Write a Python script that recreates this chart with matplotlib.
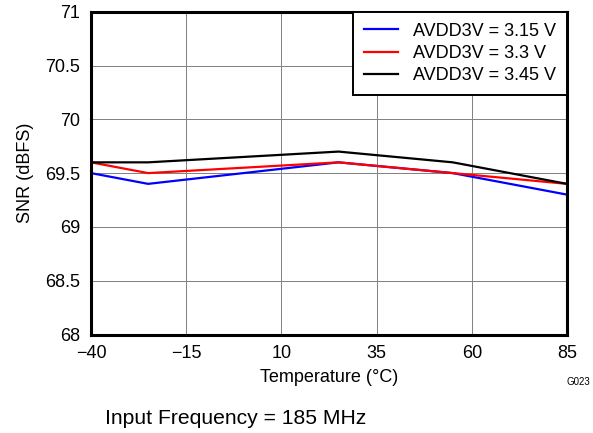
import matplotlib
matplotlib.use("Agg")
import matplotlib.pyplot as plt

plt.rcParams['font.family'] = ['Liberation Sans', 'DejaVu Sans']

temps = [-40, -25, 25, 55, 85]
snr_315 = [69.5, 69.4, 69.6, 69.5, 69.3]
snr_33 = [69.6, 69.5, 69.6, 69.5, 69.4]
snr_345 = [69.6, 69.6, 69.7, 69.6, 69.4]
labels = ['AVDD3V = 3.15 V', 'AVDD3V = 3.3 V', 'AVDD3V = 3.45 V']
xticks = [-40, -15, 10, 35, 60, 85]
xticklabels = ['\u221240', '\u221215', '10', '35', '60', '85']
yticks = [68, 68.5, 69, 69.5, 70, 70.5, 71]
yticklabels = ['68', '68.5', '69', '69.5', '70', '70.5', '71']

fig = plt.figure(figsize=(5.93, 4.33), dpi=100)
ax = fig.add_axes([91 / 593, (433 - 334.5) / 433, (567 - 91) / 593, (334.5 - 11.7) / 433])
ax.plot(temps, snr_315, color='#0000ff', lw=1.6, label=labels[0])
ax.plot(temps, snr_33, color='#ff0000', lw=1.6, label=labels[1])
ax.plot(temps, snr_345, color='#000000', lw=1.6, label=labels[2])
ax.set_xlim(-40, 85)
ax.set_ylim(68, 71)
ax.set_xticks(xticks)
ax.set_xticklabels(xticklabels)
ax.set_yticks(yticks)
ax.set_yticklabels(yticklabels)
ax.tick_params(length=0, labelsize=13)
ax.tick_params(axis='x', pad=7.5)
ax.tick_params(axis='y', pad=8)
ax.grid(True, color='#808080', lw=0.7)
for s in ax.spines.values():
    s.set_linewidth(2.2)
ax.set_xlabel('Temperature (\u00b0C)', fontsize=13, labelpad=5)
ax.set_ylabel('SNR (dBFS)', fontsize=13, labelpad=8)
leg = ax.legend(loc='upper right', fontsize=13, frameon=True, fancybox=False,
                edgecolor='black', borderaxespad=0, handlelength=1.9,
                handletextpad=0.85, framealpha=1, borderpad=0.6,
                labelspacing=0.3)
leg.get_frame().set_linewidth(1.4)
fig.text(578.5 / 593, 1 - 382 / 433, 'G023', fontsize=7, ha='center', va='center')
fig.text(105 / 593, 1 - 419 / 433, 'Input Frequency = 185 MHz', fontsize=15.2,
         ha='left', va='center')
fig.savefig('out.png', dpi=100)
